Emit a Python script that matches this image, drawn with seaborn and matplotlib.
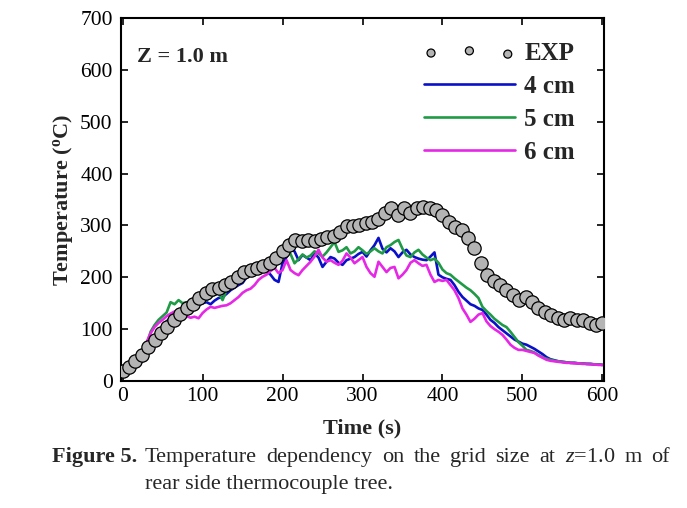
import numpy as np
import pandas as pd
import matplotlib
matplotlib.use("Agg")
import matplotlib.pyplot as plt
import seaborn as sns

# ---- data ----
exp_time = [0, 8, 16, 24, 32, 40, 48, 56, 64, 72, 80, 88, 96, 104, 112, 120, 128, 136, 144, 152,
            160, 168, 176, 184, 192, 200, 208, 216, 224, 232, 240, 248, 256, 264, 272, 280, 288, 296,
            304, 312, 320, 328, 336, 344, 352, 360, 368, 376, 384, 392, 400, 408, 416, 424, 432, 440,
            448, 456, 464, 472, 480, 488, 496, 504, 512, 520, 528, 536, 544, 552, 560, 568, 576, 584,
            592, 600]
exp_temp = [20, 27, 38, 50, 65, 80, 93, 105, 118, 130, 140, 148, 160, 170, 177, 180, 185, 190, 200, 210,
            215, 218, 222, 228, 238, 250, 262, 272, 270, 272, 270, 273, 278, 280, 288, 298, 298, 300,
            305, 307, 312, 324, 333, 320, 333, 324, 333, 336, 333, 330, 320, 307, 297, 291, 275, 256,
            227, 204, 192, 185, 175, 166, 156, 162, 152, 140, 133, 127, 121, 117, 121, 117, 117, 111,
            108, 111]

sim_time = list(range(0, 601, 5))
t_4cm = [20, 22, 25, 28, 32, 38, 48, 62, 78, 92, 105, 115, 122, 130, 136, 142, 145, 150, 148, 146,
         150, 152, 148, 155, 160, 162, 168, 175, 180, 185, 189, 200, 205, 210, 214, 218, 212, 205, 195, 191,
         227, 239, 256, 250, 233, 243, 238, 233, 246, 238, 220, 230, 239, 236, 228, 224, 233, 236, 239, 245,
         249, 240, 252, 262, 276, 255, 248, 256, 250, 239, 248, 253, 244, 239, 236, 234, 233, 240, 248, 205,
         200, 197, 195, 185, 172, 162, 155, 148, 145, 140, 137, 128, 118, 112, 104, 98, 92, 86, 80, 76,
         72, 70, 66, 62, 57, 52, 46, 42, 40, 38, 37, 36, 35, 35, 34, 34, 33, 33, 32, 32,
         31]
t_5cm = [20, 22, 25, 29, 35, 45, 70, 95, 108, 118, 125, 132, 152, 148, 156, 150, 152, 148, 150, 154,
         152, 156, 162, 166, 170, 156, 175, 185, 190, 195, 200, 204, 210, 208, 215, 220, 222, 228, 232, 235,
         240, 249, 245, 227, 235, 244, 238, 242, 250, 246, 240, 248, 258, 268, 249, 252, 258, 246, 250, 258,
         252, 245, 250, 256, 250, 246, 258, 262, 268, 272, 255, 242, 239, 248, 253, 244, 238, 233, 236, 228,
         215, 208, 205, 198, 192, 186, 180, 175, 168, 160, 143, 135, 128, 120, 114, 108, 104, 95, 85, 75,
         68, 60, 58, 55, 50, 46, 43, 41, 39, 38, 37, 36, 35, 35, 34, 34, 33, 33, 32, 32,
         31]
t_6cm = [20, 22, 25, 28, 33, 45, 75, 92, 104, 112, 118, 125, 130, 134, 132, 127, 125, 122, 124, 121,
         131, 138, 143, 141, 143, 145, 146, 150, 156, 162, 170, 175, 178, 185, 195, 201, 205, 212, 218, 208,
         214, 233, 214, 208, 204, 214, 222, 230, 240, 253, 238, 230, 233, 228, 224, 232, 246, 238, 227, 233,
         239, 220, 208, 201, 230, 220, 210, 218, 220, 198, 205, 214, 228, 233, 227, 222, 224, 205, 191, 195,
         193, 195, 185, 175, 160, 140, 128, 114, 120, 128, 131, 115, 106, 100, 95, 89, 80, 70, 64, 60,
         60, 58, 56, 54, 49, 45, 41, 39, 38, 37, 36, 35, 35, 34, 34, 33, 33, 32, 32, 31,
         31]

series_names = ["4 cm", "5 cm", "6 cm"]
series_colors = ["#0a10c8", "#1f9a45", "#e628e6"]

caption_label = "Figure 5."
caption_line1 = ["Temperature", "dependency", "on", "the", "grid", "size", "at", "$\\mathit{z}$=1.0", "m", "of"]
caption_line2 = "rear side thermocouple tree."

# ---- style ----
sns.set_theme(style="ticks")
plt.rcParams["font.family"] = ["Liberation Serif", "DejaVu Serif"]
plt.rcParams["mathtext.fontset"] = "custom"
plt.rcParams["mathtext.rm"] = "Liberation Serif"
plt.rcParams["mathtext.it"] = "Liberation Serif:italic"
plt.rcParams["mathtext.bf"] = "Liberation Serif:bold"

fig = plt.figure(figsize=(6.87, 5.08), dpi=100)
ax = fig.add_axes([121 / 687, 1 - 381 / 508, (604 - 121) / 687, (381 - 18) / 508])

sim_df = pd.DataFrame({
    "time": sim_time * 3,
    "temp": t_4cm + t_5cm + t_6cm,
    "grid": sum([[n] * len(sim_time) for n in series_names], []),
})
sns.lineplot(data=sim_df, x="time", y="temp", hue="grid", palette=dict(zip(series_names, series_colors)),
             linewidth=1.9, ax=ax, legend=True, zorder=2)

sns.scatterplot(x=exp_time, y=exp_temp, s=92, color="#b4b4b4", edgecolor="black", linewidth=0.9,
                ax=ax, label="EXP", zorder=3)

ax.set_xlim(-2, 602)
ax.set_ylim(0, 700)
ax.set_xticks(range(0, 601, 100))
ax.set_yticks(range(0, 701, 100))
ax.tick_params(direction="in", top=True, right=True, length=5, width=1.2, labelsize=15.5, colors="black")
ax.tick_params(axis="y", pad=6)
ax.tick_params(axis="x", pad=4)
for s in ax.spines.values():
    s.set_linewidth(1.5)
    s.set_color("black")
ax.set_xlabel("Time (s)", fontsize=16, fontweight="bold", labelpad=9)
ax.set_ylabel(r"Temperature ($^{\mathbf{o}}$C)", fontsize=16, fontweight="bold", labelpad=4)

handles, labels = ax.get_legend_handles_labels()
order = [labels.index("EXP")] + [labels.index(n) for n in series_names]
leg = ax.legend([handles[i] for i in order], [labels[i] for i in order], loc="upper right",
                bbox_to_anchor=(0.94, 0.935), frameon=False, scatterpoints=3, markerscale=0.6,
                borderpad=0, borderaxespad=0,
                handlelength=3.67, handletextpad=0.36, labelspacing=0.40, prop={"weight": "bold", "size": 18})

ax.text(0.033, 0.893, "Z = 1.0 m", transform=ax.transAxes, fontsize=16, fontweight="bold", ha="left", va="center")

# caption (first line justified between two edges, like the source)
cap_fs = 16
x_start, x_end = 145 / 687, 670 / 687
y1, y2 = 1 - 462 / 508, 1 - 489 / 508
fig.text(137 / 687, y1, caption_label, fontsize=cap_fs, fontweight="bold", ha="right", va="baseline")
word_texts = [fig.text(0, y1, w, fontsize=cap_fs, ha="left", va="baseline") for w in caption_line1]
fig.canvas.draw()
renderer = fig.canvas.get_renderer()
fig_w = fig.bbox.width
widths = [t.get_window_extent(renderer).width / fig_w for t in word_texts]
gap = (x_end - x_start - sum(widths)) / (len(widths) - 1)
xpos = x_start
for t, w in zip(word_texts, widths):
    t.set_x(xpos)
    xpos += w + gap
fig.text(x_start, y2, caption_line2, fontsize=cap_fs, ha="left", va="baseline")

fig.savefig("out.png", dpi=100)
